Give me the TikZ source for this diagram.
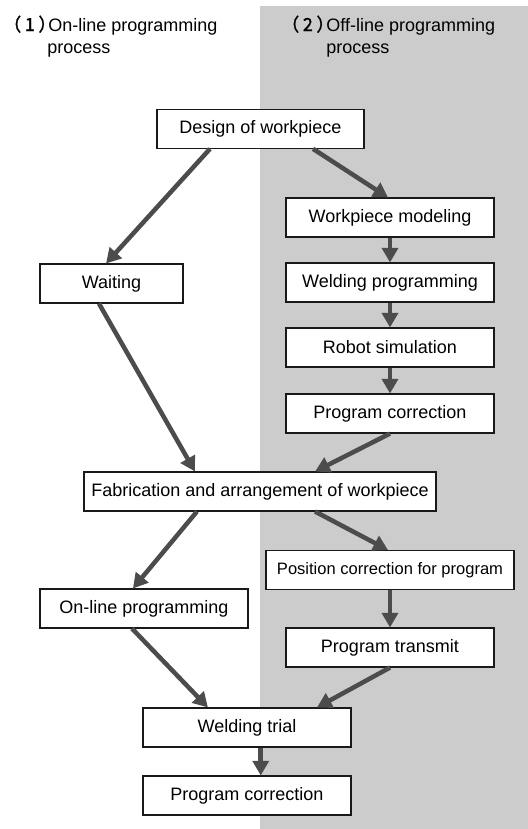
\documentclass[tikz,border=0pt]{standalone}
\usepackage{fontspec}
\setmainfont{Liberation Sans}
\newfontfamily\cjk[FakeBold=1.5]{Noto Sans CJK SC}
\usetikzlibrary{arrows.meta}

\tikzset{
	box/.style={draw=black!90, line width=0.8pt, fill=white, inner sep=0pt,
		minimum height=29.25pt, minimum width=156pt},
	flow/.style={draw=black!70, line width=3.4pt, -{Triangle[length=11pt,width=12pt]}},
	head/.style={anchor=base west, inner sep=0pt}
}

\begin{document}
\begin{tikzpicture}[x=0.75pt, y=-0.75pt, font=\fontsize{13.5}{16}\selectfont] % 1 unit = 1 px
					\useasboundingbox (0,0) rectangle (528,829);
					\fill[gray!40] (260,6) rectangle (528,829);
					\node[head] (onhead) at (3,31) {{\cjk （\kern0.2em 1\kern0.2em ）}\kern-0.45em On-line programming};
					\node[head] (onproc) at (47,53) {process};
					\node[head] (offhead) at (281,31) {{\cjk （\kern0.2em 2\kern0.2em ）}\kern-0.45em Off-line programming};
					\node[head] (offproc) at (326,53) {process};
					\node[box, minimum width=155.25pt] (design) at (260.5,128.8) {Design of workpiece};
					\node[box] (model) at (390,217.5) {Workpiece modeling};
					\node[box] (weldprog) at (390,282.5) {Welding programming};
					\node[box] (robsim) at (390,347.5) {Robot simulation};
					\node[box] (progcorr) at (390,413.5) {Program correction};
					\node[box, minimum width=107.25pt] (waiting) at (111.5,283.5) {Waiting};
					\node[box, minimum width=264pt] (fab) at (260,491.5) {Fabrication and arrangement of workpiece};
					\node[box, minimum width=186pt, font=\fontsize{12.4}{15}\selectfont] (poscorr) at (390,570) {Position correction for program};
					\node[box] (online) at (144,608.5) {On-line programming};
					\node[box] (transmit) at (390,647.5) {Program transmit};
					\node[box] (trial) at (247,727.5) {Welding trial};
					\node[box] (finalcorr) at (247,795.5) {Program correction};
					\draw[flow] ([xshift=-37.9pt]design.south) -- ([xshift=-4.1pt]waiting.north);
					\draw[flow] ([xshift=39.4pt]design.south) -- ([xshift=-1.5pt]model.north);
					\foreach \a/\b in {model/weldprog, weldprog/robsim, robsim/progcorr, poscorr/transmit}
						\draw[flow] (\a.south) -- (\b.north);
					\draw[flow] ([xshift=-9.4pt]waiting.south) -- ([xshift=-48.8pt]fab.north);
					\draw[flow] (progcorr.south) -- ([xshift=41.3pt]fab.north);
					\draw[flow] ([xshift=-47.3pt]fab.south) -- ([xshift=-8.3pt]online.north);
					\draw[flow] ([xshift=41.3pt]fab.south) -- ([xshift=-1.5pt]poscorr.north);
					\draw[flow] ([xshift=-9pt]online.south) -- ([xshift=-29.3pt]trial.north);
					\draw[flow] (transmit.south) -- ([xshift=52.5pt]trial.north);
					\draw[flow] ([xshift=10.3pt]trial.south) -- ([xshift=10.3pt]finalcorr.north);
				\end{tikzpicture}
\end{document}
